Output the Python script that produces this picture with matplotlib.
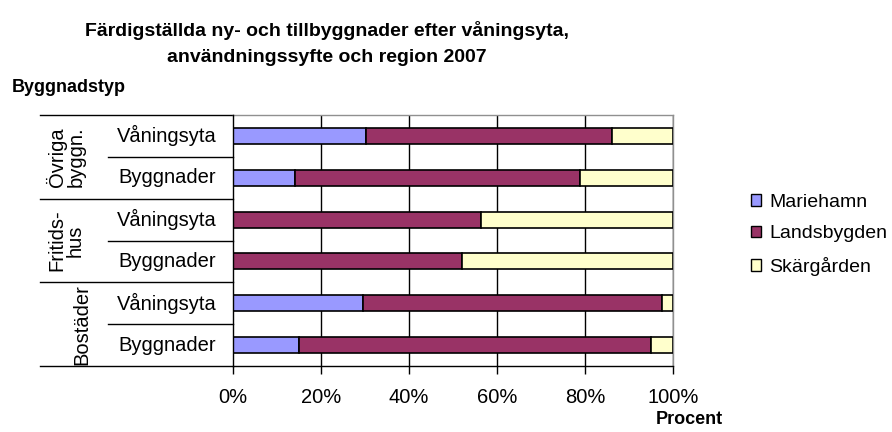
import matplotlib
matplotlib.use("Agg")
import matplotlib.pyplot as plt
from matplotlib.patches import Patch

plt.rcParams['font.family'] = ['Liberation Sans', 'DejaVu Sans']

# ---- data (bottom to top) ----
groups = ["Bostäder", "Fritids-\nhus", "Övriga\nbyggn."]
subcats = ["Byggnader", "Våningsyta", "Byggnader", "Våningsyta", "Byggnader", "Våningsyta"]
series_names = ["Mariehamn", "Landsbygden", "Skärgården"]
mariehamn = [14.9, 29.5, 0.0, 0.0, 14.2, 30.2]
landsbygden = [80.1, 68.0, 52.0, 56.4, 64.7, 56.0]
skargarden = [5.0, 2.5, 48.0, 43.6, 21.1, 13.8]
xticks = [0, 20, 40, 60, 80, 100]
xticklabels = ["0%", "20%", "40%", "60%", "80%", "100%"]
title_lines = ["Färdigställda ny- och tillbyggnader efter våningsyta,",
               "användningssyfte och region 2007"]

colors = ["#9999FF", "#993366", "#FFFFCC"]

W, H = 892, 432
fig = plt.figure(figsize=(W / 100, H / 100), dpi=100)
fig.patch.set_facecolor("white")

def fx(px):
    return px / W

def fy(py):
    return 1 - py / H

ax_l, ax_r, ax_t, ax_b = 233, 673, 115, 366
ax = fig.add_axes([fx(ax_l), fy(ax_b), fx(ax_r - ax_l), (ax_b - ax_t) / H])

n = len(subcats)
ypos = list(range(n))
bh = 0.38
left = [0.0] * n
for vals, col, name in zip([mariehamn, landsbygden, skargarden], colors, series_names):
    ax.barh(ypos, vals, left=left, height=bh, color=col, edgecolor="black",
            linewidth=1.2, zorder=3, label=name)
    left = [a + b for a, b in zip(left, vals)]

fs = 14.5
ax.set_xlim(0, 100)
ax.set_ylim(-0.5, n - 0.5)
ax.set_xticks(xticks)
ax.set_xticklabels(xticklabels, fontsize=fs)
ax.tick_params(axis="x", direction="out", length=6, width=1, color="black", pad=10)
ax.set_yticks([])
for x in xticks[1:]:
    ax.axvline(x, color="black", linewidth=1, zorder=1)

for s in ["left", "bottom"]:
    ax.spines[s].set_color("black")
    ax.spines[s].set_linewidth(1)
for s in ["top", "right"]:
    ax.spines[s].set_color("#909090")
    ax.spines[s].set_linewidth(1)
ax.spines["left"].set_zorder(4)

# multi-level category axis
tr = ax.get_yaxis_transform()
def axx(px):
    return (px - ax_l) / (ax_r - ax_l)

for b in [-0.5, 1.5, 3.5, 5.5]:
    ax.plot([axx(40), 0], [b, b], color="black", linewidth=1, transform=tr, clip_on=False)
for b in [0.5, 2.5, 4.5]:
    ax.plot([axx(108), 0], [b, b], color="black", linewidth=1, transform=tr, clip_on=False)

for i, lab in enumerate(subcats):
    ax.text(axx(167), i, lab, transform=tr, ha="center", va="center", fontsize=fs)

group_x = [82, 66, 66]
for g, (lab, gx) in enumerate(zip(groups, group_x)):
    ax.text(axx(gx), 2 * g + 0.5, lab, transform=tr, ha="center", va="center",
            rotation=90, fontsize=fs, linespacing=1.0)

# titles
fig.text(fx(327), fy(30), title_lines[0], ha="center", va="center",
         fontsize=14, fontweight="bold")
fig.text(fx(327), fy(58), title_lines[1], ha="center", va="center",
         fontsize=14, fontweight="bold")
fig.text(fx(12), fy(88), "Byggnadstyp", ha="left", va="center",
         fontsize=13, fontweight="bold")
fig.text(fx(689), fy(420), "Procent", ha="center", va="center",
         fontsize=13, fontweight="bold")

handles = [Patch(facecolor=c, edgecolor="black", linewidth=1) for c in colors]
fig.legend(handles, series_names, loc="center left",
           bbox_to_anchor=(fx(743), fy(235)), frameon=False, fontsize=14,
           handlelength=0.55, handleheight=0.55, handletextpad=0.4,
           labelspacing=0.75, borderaxespad=0)

fig.savefig("out.png", dpi=100)
